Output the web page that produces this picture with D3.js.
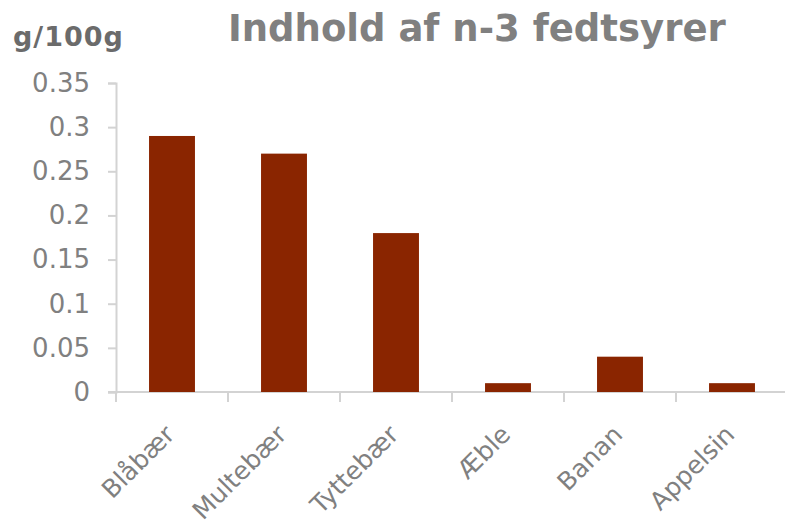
<!DOCTYPE html>
<html>
<head>
<meta charset="utf-8">
<script src="https://cdn.jsdelivr.net/npm/d3@7"></script>
<style>
  body { margin: 0; background: #fff; }
  svg { display: block; font-family: Verdana, "DejaVu Sans", sans-serif; }
</style>
</head>
<body>
<script>
// data
var categories = ['Blåbær', 'Multebær', 'Tyttebær', 'Æble', 'Banan', 'Appelsin'];
var values = [0.29, 0.27, 0.18, 0.01, 0.04, 0.01];
var yTicks = [0, 0.05, 0.1, 0.15, 0.2, 0.25, 0.3, 0.35];
var yTickLabels = ['0', '0.05', '0.1', '0.15', '0.2', '0.25', '0.3', '0.35'];

var width = 785;
var height = 527;

var svg = d3.select('body').append('svg')
    .attr('width', width)
    .attr('height', height);

var x = d3.scaleBand()
    .domain(categories)
    .range([116, 788])
    .paddingInner(0.59)
    .paddingOuter(0.295);

var y = d3.scaleLinear()
    .domain([0, 0.35])
    .range([392, 83]);

var axisColor = '#d3d3d3';
var textColor = '#808080';

// y axis
var yAxis = svg.append('g')
    .attr('transform', 'translate(116,0)')
    .call(d3.axisLeft(y)
        .tickValues(yTicks)
        .tickSize(8)
        .tickPadding(18)
        .tickFormat(function(d, i) { return yTickLabels[i]; }));

yAxis.select('.domain').attr('stroke', axisColor).attr('stroke-width', 2);
yAxis.selectAll('.tick line').attr('stroke', axisColor).attr('stroke-width', 2);
yAxis.selectAll('.tick text')
    .attr('fill', textColor)
    .style('font-size', '26px')
    .style('font-family', 'Verdana, "DejaVu Sans", sans-serif');

// x axis line + boundary ticks
var xg = svg.append('g');
xg.append('line')
    .attr('x1', 108).attr('x2', width)
    .attr('y1', y(0)).attr('y2', y(0))
    .attr('stroke', axisColor).attr('stroke-width', 2);

d3.range(categories.length + 1).forEach(function(i) {
    var bx = x.range()[0] + i * x.step();
    xg.append('line')
        .attr('x1', bx).attr('x2', bx)
        .attr('y1', y(0)).attr('y2', y(0) + 10)
        .attr('stroke', axisColor).attr('stroke-width', 2);
});

// bars
svg.append('g').selectAll('rect')
    .data(values)
    .enter().append('rect')
    .attr('x', function(d, i) { return x(categories[i]); })
    .attr('y', function(d) { return y(d); })
    .attr('width', x.bandwidth())
    .attr('height', function(d) { return y(0) - y(d); })
    .attr('fill', '#8a2500');

// category labels, rotated
svg.append('g').selectAll('text')
    .data(categories)
    .enter().append('text')
    .attr('transform', function(d) {
        var cx = x(d) + x.bandwidth() / 2 + 4;
        return 'translate(' + cx + ',' + (y(0) + 44) + ') rotate(-45)';
    })
    .attr('text-anchor', 'end')
    .attr('fill', textColor)
    .style('font-size', '25px')
    .text(function(d) { return d; });

// title and unit
svg.append('text')
    .attr('x', 228)
    .attr('y', 41)
    .attr('fill', textColor)
    .style('font-size', '37px')
    .style('font-weight', 'bold')
    .text('Indhold af n-3 fedtsyrer');

svg.append('text')
    .attr('x', 13)
    .attr('y', 46)
    .attr('fill', '#6b6b6b')
    .style('font-size', '27px')
    .style('font-weight', 'bold')
    .style('letter-spacing', '1px')
    .text('g/100g');
</script>
</body>
</html>
